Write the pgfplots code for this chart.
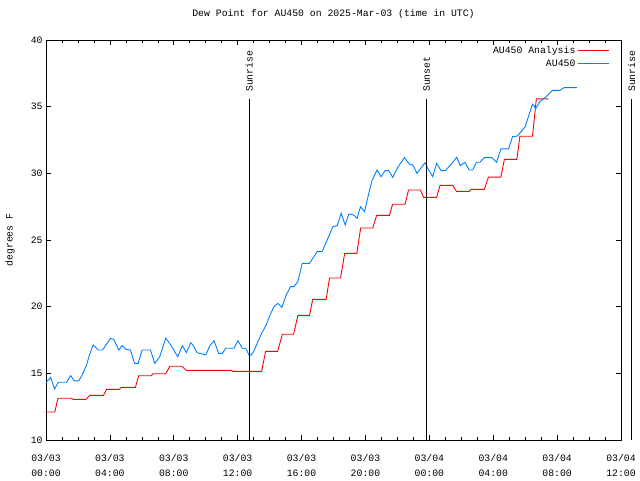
\documentclass[border=0pt]{standalone}
\usepackage{pgfplots}
\pgfplotsset{compat=1.18}
\usepackage{fontspec}
\setmainfont{Liberation Mono}
\definecolor{obsblue}{RGB}{0,128,255}
\begin{document}
\fontsize{9.8}{11}\selectfont
\begin{tikzpicture}
\begin{axis}[
  name=ax,
  scale only axis,
  width=575pt, height=400pt,
  xmin=0, xmax=36, ymin=10, ymax=40,
  clip=false,
  axis line style={line width=0.8pt},
  xtick={0,4,...,36},
  xticklabels={{03/03\\[4pt]00:00},{03/03\\[4pt]04:00},{03/03\\[4pt]08:00},{03/03\\[4pt]12:00},{03/03\\[4pt]16:00},{03/03\\[4pt]20:00},{03/04\\[4pt]00:00},{03/04\\[4pt]04:00},{03/04\\[4pt]08:00},{03/04\\[4pt]12:00}},
  minor x tick num=3,
  ytick={10,15,...,40},
  /pgf/number format/assume math mode=true,
  xticklabel style={align=center, font=\fontsize{9.8}{11}\selectfont, yshift=-11pt},
  yticklabel style={font=\fontsize{9.8}{11}\selectfont},
  major tick length=5pt, minor tick length=3pt,
  tick style={line width=0.6pt, black},
  title={Dew Point for AU450 on 2025-Mar-03 (time in UTC)},
  title style={at={(axis description cs:0.5,1)}, anchor=center, yshift=20pt, font=\fontsize{9.8}{11}\selectfont},
  ylabel={degrees F},
  every axis y label/.style={at={(axis description cs:0,0.5)}, xshift=-36pt, rotate=90, anchor=center, font=\fontsize{9.8}{11}\selectfont},
  legend style={at={(rel axis cs:0.98,0.99)}, anchor=north east, draw=none, fill=none, inner sep=0pt, row sep=1pt, font=\fontsize{9.8}{11}\selectfont},
  legend plot pos=right,
  legend cell align=right,
  legend image code/.code={\path (0pt,0pt) -- (31pt,0pt); \draw[#1] (3pt,0pt) -- (31pt,0pt);},
]
\addplot[red, line width=0.9pt] coordinates {
(0,12.1)(0.55,12.1)
(0.75,13.13)(1.6,13.13)
(1.7,13.05)(2.5,13.05)
(2.75,13.35)(3.6,13.35)
(3.8,13.8)(4.6,13.8)
(4.7,13.95)(5.6,13.95)
(5.8,14.82)(6.6,14.82)
(6.7,14.97)(7.5,14.97)
(7.75,15.53)(8.5,15.53)
(8.8,15.22)(11.6,15.22)
(11.7,15.15)(13.5,15.15)
(13.75,16.65)(14.5,16.65)
(14.8,17.93)(15.5,17.93)
(15.77,19.35)(16.5,19.35)
(16.7,20.55)(17.54,20.55)
(17.75,22.15)(18.44,22.15)
(18.7,24.0)(19.46,24.0)
(19.7,25.9)(20.46,25.9)
(20.7,26.85)(21.5,26.85)
(21.7,27.68)(22.48,27.68)
(22.7,28.75)(23.44,28.75)
(23.64,28.2)(24.46,28.2)
(24.67,29.1)(25.46,29.1)
(25.7,28.65)(26.5,28.65)
(26.6,28.8)(27.44,28.8)
(27.7,29.72)(28.48,29.72)
(28.7,31.05)(29.48,31.05)
(29.67,32.78)(30.46,32.78)
(30.7,35.58)(31.46,35.58)
};
\addlegendentry{AU450 Analysis}
\addplot[obsblue, line width=0.9pt] coordinates {
(0.0,14.3)(0.29,14.70)(0.54,13.83)(0.77,14.33)(1.29,14.33)(1.54,14.83)(1.77,14.43)(2.04,14.43)
(2.27,14.88)(2.54,15.63)(2.75,16.5)(2.96,17.13)(3.27,16.75)(3.54,16.75)(4.04,17.63)(4.25,17.53)
(4.56,16.75)(4.77,17.08)(5.0,16.8)(5.29,16.75)(5.54,15.75)(5.77,15.75)(6.02,16.75)(6.54,16.75)
(6.81,15.75)(7.12,16.25)(7.5,17.63)(7.81,17.13)(8.25,16.25)(8.54,17.08)(8.79,16.55)(9.06,17.3)
(9.2,17.13)(9.46,16.55)(10.0,16.38)(10.25,17.05)(10.52,17.45)(10.81,16.5)(11.04,16.5)(11.25,16.88)
(11.77,16.88)(12.02,17.45)(12.29,16.88)(12.5,16.88)(12.71,16.38)(12.85,16.38)(13.0,16.63)(13.27,17.38)
(13.5,18.0)(13.79,18.63)(14.0,19.3)(14.27,20.0)(14.52,20.25)(14.77,19.95)(15.04,20.88)(15.31,21.5)
(15.52,21.5)(15.77,21.88)(16.04,23.25)(16.5,23.25)(16.98,24.13)(17.29,24.13)(17.65,25.13)(17.96,26.0)
(18.23,26.08)(18.48,27.0)(18.73,26.13)(18.96,26.95)(19.25,26.88)(19.48,26.63)(19.69,27.5)(19.94,27.13)
(20.21,28.5)(20.42,29.5)(20.73,30.25)(20.98,29.75)(21.23,30.2)(21.46,30.2)(21.71,29.7)(22.02,30.45)
(22.44,31.18)(22.75,30.7)(22.96,30.63)(23.23,30.0)(23.73,30.8)(23.9,30.38)(24.21,29.75)(24.46,30.75)
(24.73,30.2)(25.0,30.2)(25.36,30.68)(25.71,31.2)(25.94,30.58)(26.23,30.83)(26.5,30.25)(26.71,30.25)
(26.96,30.83)(27.17,30.83)(27.44,31.18)(27.92,31.18)(28.21,30.83)(28.48,31.83)(28.96,31.83)(29.21,32.75)
(29.52,32.8)(30.0,33.5)(30.46,35.18)(30.67,34.88)(30.92,35.38)(31.25,35.68)(31.71,36.22)(32.17,36.22)
(32.44,36.43)(33.23,36.43)
};
\addlegendentry{AU450}
\addplot[black, line width=0.9pt, forget plot] coordinates {(12.71,10)(12.71,35.55)};
\addplot[black, line width=0.9pt, forget plot] coordinates {(23.83,10)(23.83,35.55)};
\addplot[black, line width=0.9pt, forget plot] coordinates {(36.66,10)(36.66,35.55)};
\node[rotate=90, anchor=west, inner sep=0pt] at (axis cs:12.71,36.1) {Sunrise};
\node[rotate=90, anchor=west, inner sep=0pt] at (axis cs:23.83,36.1) {Sunset};
\node[rotate=90, anchor=west, inner sep=0pt] at (axis cs:36.66,36.1) {Sunrise};
\end{axis}
\pgfresetboundingbox
\path[use as bounding box] ([xshift=-46pt,yshift=-40pt]ax.south west) rectangle ([xshift=19pt,yshift=40pt]ax.north east);
\end{tikzpicture}
\end{document}
